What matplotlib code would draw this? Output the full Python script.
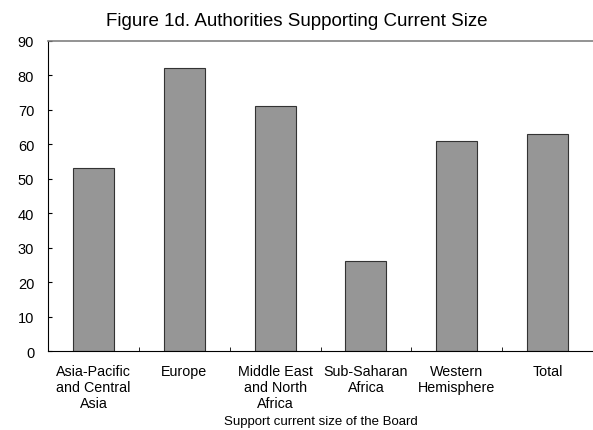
import matplotlib
matplotlib.use('Agg')
import matplotlib.pyplot as plt
import numpy as np

plt.rcParams['font.family'] = ['Liberation Sans', 'DejaVu Sans']

regions = ['Asia-Pacific\nand Central\nAsia', 'Europe', 'Middle East\nand North\nAfrica',
           'Sub-Saharan\nAfrica', 'Western\nHemisphere', 'Total']
support = [53, 82, 71, 26, 61, 63]

fig = plt.figure(figsize=(5.93, 4.31), dpi=100)
ax = fig.add_axes([0.081, 0.183, 0.919, 0.72])

x = np.arange(len(regions))
ax.bar(x, support, width=0.45, color='#969696', edgecolor='#333333', linewidth=0.8)

ax.set_xlim(-0.5, len(regions) - 0.5)
ax.set_ylim(0, 90)
ax.set_yticks(range(0, 91, 10))
ax.set_xticks(x)
ax.set_xticklabels(regions, fontsize=10.3, linespacing=1.15)
ax.set_xticks(np.arange(0.5, len(regions) - 0.5), minor=True)
ax.tick_params(axis='x', which='major', length=0, pad=9.5)
ax.tick_params(axis='x', which='minor', direction='in', length=3)
ax.tick_params(axis='y', direction='in', length=3, labelsize=10.5, pad=10)

ax.spines['right'].set_visible(False)
ax.spines['top'].set_color('#808080')
ax.spines['top'].set_linewidth(1.2)
ax.spines['left'].set_color('black')
ax.spines['bottom'].set_color('black')

ax.set_xlabel('Support current size of the Board', fontsize=9.5, labelpad=4)
fig.text(0.5, 0.951, 'Figure 1d. Authorities Supporting Current Size',
         ha='center', va='center', fontsize=13.5)

fig.savefig('out.png', dpi=100)
